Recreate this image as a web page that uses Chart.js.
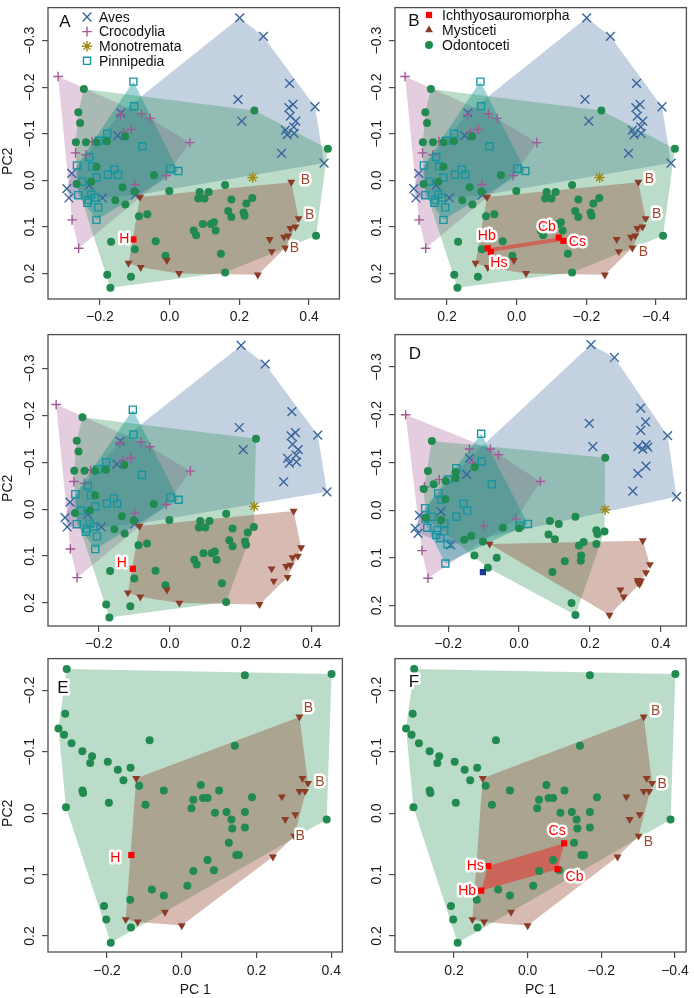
<!DOCTYPE html>
<html><head><meta charset="utf-8">
<script src="https://cdn.jsdelivr.net/npm/chart.js@4.4.1/dist/chart.umd.min.js"></script>
<style>
html,body{margin:0;padding:0;background:#fff;}
body{width:694px;height:998px;position:relative;overflow:hidden;}
canvas{position:absolute;}
</style></head>
<body>
<canvas id="cA" width="347" height="327" style="left:0;top:0"></canvas>
<canvas id="cB" width="347" height="327" style="left:347px;top:0"></canvas>
<canvas id="cC" width="347" height="327" style="left:0;top:327px"></canvas>
<canvas id="cD" width="347" height="327" style="left:347px;top:327px"></canvas>
<canvas id="cE" width="347" height="344" style="left:0;top:654px"></canvas>
<canvas id="cF" width="347" height="344" style="left:347px;top:654px"></canvas>
<script>
// ---------------- DATA (PC1, PC2) ----------------
// Panels A / B / C (full dataset)
const avesA = [[0.201,-0.349],[0.269,-0.309],[0.344,-0.208],[0.196,-0.174],[0.417,-0.158],[0.354,-0.163],[0.342,-0.156],[0.346,-0.138],[0.207,-0.127],[0.362,-0.127],[0.356,-0.115],[0.332,-0.108],[0.337,-0.098],[0.357,-0.101],[0.321,-0.058],[0.443,-0.037],[-0.140,-0.145],[-0.149,-0.096],[-0.281,-0.015],[-0.295,0.018],[-0.289,0.038],[-0.231,0.011],[-0.193,0.038],[-0.099,0.032]];
const crocA = [[-0.320,-0.223],[-0.141,-0.141],[-0.081,-0.143],[-0.056,-0.133],[-0.110,-0.109],[-0.132,-0.103],[0.058,-0.081],[-0.223,-0.083],[-0.270,-0.059],[-0.240,-0.055],[-0.010,-0.010],[-0.099,0.009],[-0.280,0.085],[-0.261,0.146]];
const monoA = [[0.238,-0.006]];
const pinnA = [[-0.104,-0.212],[-0.102,-0.159],[-0.179,-0.100],[-0.203,-0.085],[-0.078,-0.073],[-0.231,-0.050],[-0.266,-0.032],[-0.222,-0.030],[-0.210,-0.006],[-0.158,-0.023],[-0.177,-0.012],[-0.148,-0.012],[0.002,-0.025],[0.025,-0.020],[-0.250,0.003],[-0.262,0.032],[-0.225,0.031],[-0.215,0.037],[-0.233,0.042],[-0.236,0.048],[-0.205,0.058],[-0.210,0.085]];
const odonA = [[-0.246,-0.196],[-0.262,-0.146],[-0.257,-0.123],[-0.269,-0.082],[-0.240,-0.082],[-0.210,-0.082],[-0.180,-0.084],[-0.128,-0.094],[0.243,-0.150],[-0.210,-0.029],[-0.045,-0.011],[-0.267,0.008],[-0.225,0.003],[-0.135,0.015],[-0.101,0.024],[-0.001,0.023],[-0.156,0.043],[-0.127,0.052],[0.159,0.010],[0.086,0.025],[0.112,0.025],[0.082,0.039],[0.100,0.039],[0.177,0.041],[0.237,0.038],[0.220,0.050],[-0.088,0.077],[-0.064,0.073],[0.168,0.066],[0.177,0.079],[0.212,0.069],[0.215,0.076],[0.095,0.094],[0.118,0.094],[0.127,0.090],[0.069,0.108],[0.076,0.118],[0.132,0.108],[-0.168,0.132],[-0.040,0.131],[-0.100,0.148],[-0.012,0.162],[0.147,0.158],[-0.179,0.203],[-0.111,0.207],[0.159,0.198],[-0.170,0.231]];
const odonExtraA = [[0.454,-0.068],[0.420,0.119]];   // present in A and B only
const mystA = [[0.349,0.004],[-0.085,0.036],[0.370,0.082],[0.346,0.103],[0.361,0.100],[0.340,0.119],[0.328,0.122],[0.287,0.127],[0.332,0.145],[0.293,0.153],[-0.118,0.178],[-0.083,0.187],[-0.008,0.172],[0.027,0.200],[0.253,0.203]];
const ichA = [[-0.104,0.127]];
// Panel B ichthyosaurs (PC1 axis reversed)
const ichB = [[0.083,0.146],[0.074,0.154],[-0.121,0.123],[-0.134,0.130]];
const ichBNames = ['Hb','Hs','Cb','Cs'];
// Panel D
const avesD = [[0.203,-0.347],[0.269,-0.320],[0.343,-0.214],[0.198,-0.182],[0.343,-0.167],[0.357,-0.185],[0.419,-0.156],[0.208,-0.133],[0.335,-0.133],[0.349,-0.128],[0.363,-0.132],[0.358,-0.137],[0.358,-0.092],[0.335,-0.077],[0.321,-0.040],[0.444,-0.028],[-0.140,-0.109],[-0.148,-0.075],[-0.220,0.003],[-0.281,0.011],[-0.293,0.038],[-0.285,0.049],[-0.193,0.073]];
const crocD = [[-0.320,-0.200],[-0.140,-0.128],[-0.081,-0.128],[-0.058,-0.116],[-0.132,-0.099],[0.060,-0.060],[-0.225,-0.064],[-0.267,-0.049],[-0.009,0.019],[-0.100,0.033],[-0.274,0.085],[-0.257,0.143]];
const monoD = [[0.243,-0.001]];
const pinnD = [[-0.107,-0.160],[-0.105,-0.102],[-0.177,-0.088],[-0.200,-0.064],[-0.077,-0.054],[-0.228,-0.035],[-0.219,-0.022],[-0.156,-0.013],[-0.146,0.001],[-0.265,-0.004],[-0.264,0.018],[-0.245,0.014],[-0.177,0.014],[-0.211,0.028],[-0.259,0.037],[-0.230,0.042],[-0.211,0.044],[-0.234,0.052],[-0.222,0.059],[-0.202,0.071],[0.002,0.033],[0.025,0.029],[-0.208,0.112]];
const odonD = [[-0.246,-0.145],[-0.257,-0.082],[-0.269,-0.044],[-0.241,-0.054],[-0.207,-0.061],[-0.179,-0.067],[-0.179,-0.080],[-0.125,-0.090],[-0.208,-0.023],[-0.220,0.021],[-0.263,0.016],[-0.155,0.062],[-0.135,0.054],[-0.102,0.066],[-0.046,0.037],[0.000,0.038],[-0.088,0.121],[-0.063,0.100],[-0.126,0.095],[0.243,-0.110],[0.087,0.023],[0.112,0.029],[0.159,0.014],[0.083,0.051],[0.101,0.061],[0.218,0.042],[0.221,0.050],[0.241,0.045],[0.218,0.071],[0.182,0.067],[0.169,0.074],[0.175,0.095],[0.174,0.106],[0.129,0.107],[0.094,0.130],[0.148,0.195],[0.159,0.220]];
const mystD = [[-0.083,0.071],[0.349,0.064],[0.369,0.114],[0.358,0.131],[0.335,0.147],[0.344,0.148],[0.340,0.155],[0.335,0.152],[0.286,0.167],[0.295,0.182],[0.255,0.220]];
const ichD = [[-0.102,0.130]];
// Panels E / F (cetaceans only)
const odonE = [[-0.308,-0.235],[0.169,-0.225],[0.401,-0.227],[-0.312,-0.162],[-0.330,-0.138],[-0.315,-0.128],[-0.295,-0.114],[-0.266,-0.101],[-0.086,-0.119],[0.142,-0.110],[-0.240,-0.093],[-0.245,-0.082],[-0.198,-0.084],[-0.171,-0.071],[-0.137,-0.074],[-0.156,-0.054],[-0.114,-0.045],[-0.266,-0.037],[-0.264,-0.033],[-0.048,-0.037],[0.051,-0.046],[0.100,-0.037],[0.031,-0.022],[0.057,-0.025],[0.069,-0.025],[0.188,-0.026],[-0.195,-0.017],[-0.310,-0.010],[-0.097,-0.014],[0.026,-0.008],[0.089,-0.001],[0.120,-0.002],[0.133,0.010],[0.169,-0.002],[0.135,0.025],[0.169,0.023],[0.388,0.010],[0.126,0.048],[0.146,0.068],[0.153,0.068],[0.069,0.076],[0.031,0.094],[0.086,0.093],[0.015,0.118],[-0.080,0.124],[-0.048,0.134],[-0.138,0.141],[-0.208,0.151],[-0.202,0.173],[-0.136,0.186],[-0.190,0.211]];
const mystE = [[0.315,-0.157],[-0.122,-0.057],[0.323,-0.057],[0.338,-0.049],[0.268,-0.027],[0.315,-0.036],[0.330,-0.036],[0.304,0.002],[0.277,0.010],[0.301,0.037],[0.244,0.071],[-0.045,0.161],[-0.150,0.173],[-0.118,0.177],[0.000,0.183]];
const ichE = [[-0.135,0.068]];
const ichF = [[0.107,0.086],[0.126,0.126],[-0.099,0.049],[-0.081,0.091]];
const ichFNames = ['Hs','Hb','Cs','Cb'];

// tick labels
const ticksPC1 = [-0.2, 0.0, 0.2, 0.4];
const ticksPC1Rev = [0.2, 0.0, -0.2, -0.4];
const ticksPC2Full = [-0.3, -0.2, -0.1, 0.0, 0.1, 0.2];
const ticksPC2Cet = [-0.2, -0.1, 0.0, 0.1, 0.2];
const legendNamesA = ['Aves','Crocodylia','Monotremata','Pinnipedia'];
const legendNamesB = ['Ichthyosauromorpha','Mysticeti','Odontoceti'];

// PC1 sign flip for panels B and F
const flip = pts => pts.map(([x, y]) => [-x, y]);

// ---------------- STYLE ----------------
const FONT = '"Liberation Sans", Arial, Helvetica, sans-serif';
const COL = {
  aves:[58,102,156], croc:[163,88,150], mono:[160,138,20], pinn:[24,150,160],
  odon:[32,138,80], myst:[140,60,38], ich:[255,0,0], ichD:[30,55,150]
};
const rgb = c => `rgb(${c[0]},${c[1]},${c[2]})`;
const rgba = (c,a) => `rgba(${c[0]},${c[1]},${c[2]},${a})`;
const STY = {
  aves:{pointStyle:'crossRot', radius:6.2, bw:1.4, open:true},
  croc:{pointStyle:'cross', radius:4.8, bw:1.4, open:true},
  mono:{pointStyle:'star', radius:5.2, bw:1.4, open:true},
  pinn:{pointStyle:'rect', radius:5.0, bw:1.4, open:true},
  odon:{pointStyle:'circle', radius:4.0, bw:0},
  myst:{pointStyle:'triangle', radius:4.6, bw:0, rotation:180},
  ich:{pointStyle:'rect', radius:4.4, bw:0}
};
const HULL_ALPHA = {aves:0.3, croc:0.3, pinn:0.42, odon:0.3, myst:0.35, ich:0.38};

function hull(pts){
  const p = pts.map(q=>q.slice()).sort((a,b)=>a[0]-b[0]||a[1]-b[1]);
  if (p.length < 3) return p;
  const cr=(o,a,b)=>(a[0]-o[0])*(b[1]-o[1])-(a[1]-o[1])*(b[0]-o[0]);
  const lo=[],up=[];
  for(const q of p){while(lo.length>=2&&cr(lo[lo.length-2],lo[lo.length-1],q)<=0)lo.pop();lo.push(q);}
  for(let i=p.length-1;i>=0;i--){const q=p[i];while(up.length>=2&&cr(up[up.length-2],up[up.length-1],q)<=0)up.pop();up.push(q);}
  up.pop();lo.pop();return lo.concat(up);
}
const fmt = v => (Math.abs(v) < 1e-9 ? '0.0' : (v < 0 ? '\u2212' : '') + Math.abs(v).toFixed(1));

function drawSym(ctx, key, color, x, y, rot){
  const s = STY[key];
  ctx.save();
  ctx.strokeStyle = rgb(color); ctx.fillStyle = s.open ? 'rgba(0,0,0,0)' : rgb(color);
  ctx.lineWidth = s.bw || 0;
  Chart.helpers.drawPoint(ctx, {pointStyle:s.pointStyle, rotation: rot!==undefined?rot:(s.rotation||0), radius:s.radius, borderWidth:s.bw}, x, y);
  ctx.restore();
}

function makePanel(id, P){
  const datasets = [];
  // hulls first (behind)
  P.groups.forEach((g,k)=>{
    if (g.hull && g.pts.length >= 3){
      datasets.push({type:'line', data: hull(g.pts).map(([x,y])=>({x,y})), fill:'shape',
        backgroundColor: rgba(g.key==='ich'?COL.ich:g.color, HULL_ALPHA[g.key]), borderColor:'rgba(0,0,0,0)', borderWidth:0,
        pointRadius:0, pointHoverRadius:0, pointHitRadius:0, tension:0, order: 200 - k});
    }
  });
  P.groups.forEach((g,k)=>{
    const s = STY[g.key];
    datasets.push({type:'scatter', data: g.pts.map(([x,y])=>({x,y})), pointStyle:s.pointStyle,
      rotation: s.rotation||0, pointRadius:s.radius, pointHoverRadius:s.radius, borderWidth:s.bw,
      borderColor: rgb(g.color), backgroundColor: s.open ? 'rgba(0,0,0,0)' : rgb(g.color),
      clip:false, order: 100 - k});
  });

  const annot = {
    id:'annot'+id,
    afterDraw(chart){
      const ctx = chart.ctx, a = chart.chartArea, xs = chart.scales.x, ys = chart.scales.y;
      ctx.save();
      ctx.strokeStyle = '#4d4d4d'; ctx.lineWidth = 1.3;
      ctx.strokeRect(a.left, a.top, a.right-a.left, a.bottom-a.top);
      // rotated y tick labels
      ctx.fillStyle = '#1a1a1a'; ctx.font = `14px ${FONT}`;
      ctx.textAlign='center'; ctx.textBaseline='middle';
      ys.ticks.forEach(t=>{
        const py = ys.getPixelForValue(t.value);
        ctx.save(); ctx.translate(a.left-18, py); ctx.rotate(-Math.PI/2); ctx.fillText(fmt(t.value),0,0); ctx.restore();
      });
      // axis titles
      if (P.yTitle){
        ctx.save(); ctx.translate(8, (a.top+a.bottom)/2 + 8); ctx.rotate(-Math.PI/2);
        ctx.font = `14px ${FONT}`; ctx.fillText('PC2',0,0); ctx.restore();
      }
      if (P.xTitle){
        ctx.font = `14px ${FONT}`; ctx.fillText('PC 1', (a.left+a.right)/2, a.bottom+38);
      }
      // point labels
      (P.labels||[]).forEach(L=>{
        const px = xs.getPixelForValue(L.pt[0]) + L.dx, py = ys.getPixelForValue(L.pt[1]) + L.dy;
        ctx.font = `14px ${FONT}`; ctx.textAlign='center'; ctx.textBaseline='middle';
        ctx.lineJoin='round'; ctx.strokeStyle='#ffffff'; ctx.lineWidth=5;
        ctx.strokeText(L.text, px, py); ctx.fillStyle = L.color; ctx.fillText(L.text, px, py);
      });
      // panel letter
      if (P.letter){
        ctx.font = `17px ${FONT}`; ctx.textAlign='center'; ctx.textBaseline='middle';
        if (P.letterHalo){ ctx.lineJoin='round'; ctx.strokeStyle='#fff'; ctx.lineWidth=5; ctx.strokeText(P.letter, P.letterPos[0], P.letterPos[1]); }
        ctx.fillStyle='#111'; ctx.fillText(P.letter, P.letterPos[0], P.letterPos[1]);
      }
      // legend
      if (P.legend){
        const L = P.legend;
        L.items.forEach((it,i)=>{
          const y = L.y0 + i*L.dy;
          drawSym(ctx, it.key, it.color, L.sx, y, it.rot);
          ctx.fillStyle='#111'; ctx.font=`14px ${FONT}`; ctx.textAlign='left'; ctx.textBaseline='middle';
          ctx.fillText(it.name, L.tx, y+1);
        });
      }
      ctx.restore();
    }
  };

  const axisCommon = {
    type:'linear',
    grid:{display:true, drawOnChartArea:false, drawTicks:true, tickLength:6, color:'#4d4d4d', lineWidth:1.2},
    border:{display:false}
  };
  return new Chart(document.getElementById(id), {
    type:'scatter',
    data:{datasets},
    options:{
      responsive:false, animation:false, devicePixelRatio:1, events:[],
      layout:{padding:{top:P.pad.top, right:P.pad.right, left:0, bottom:0}},
      plugins:{legend:{display:false}, tooltip:{enabled:false}},
      scales:{
        x:Object.assign({}, axisCommon, {
          min:P.xr[0], max:P.xr[1], reverse: !!P.xrev,
          afterBuildTicks: s => { s.ticks = P.xticks.map(v=>({value:v})); },
          afterFit: s => { s.height = P.xAxisH; },
          ticks:{display:true, autoSkip:false, maxRotation:0, minRotation:0, padding:P.xPad,
                 color:'#1a1a1a', font:{family:FONT, size:14}, callback: v => fmt(v)}
        }),
        y:Object.assign({}, axisCommon, {
          min:P.yr[0], max:P.yr[1], reverse:true,
          afterBuildTicks: s => { s.ticks = P.yticks.map(v=>({value:v})); },
          afterFit: s => { s.width = 48; },
          ticks:{display:false}
        })
      }
    },
    plugins:[annot]
  });
}

const G = (key, pts, hullOn, color) => ({key, pts, hull:hullOn, color: color || COL[key]});
const brown = 'rgb(158,70,48)', red = '#ff0000';

const legA = {sx:87, tx:99, y0:17, dy:14.6, items:[
  {key:'aves', color:COL.aves, name:legendNamesA[0]},
  {key:'croc', color:COL.croc, name:legendNamesA[1]},
  {key:'mono', color:COL.mono, name:legendNamesA[2]},
  {key:'pinn', color:COL.pinn, name:legendNamesA[3]}]};
const legB = {sx:82, tx:95, y0:15, dy:15, items:[
  {key:'ich', color:COL.ich, name:legendNamesB[0]},
  {key:'myst', color:COL.myst, name:legendNamesB[1], rot:0},
  {key:'odon', color:COL.odon, name:legendNamesB[2]}]};

// Panel A
makePanel('cA', {
  xr:[-0.349,0.487], yr:[-0.371,0.255], xticks:ticksPC1, yticks:ticksPC2Full,
  pad:{top:2,right:2}, xAxisH:28, xPad:4, yTitle:true,
  groups:[G('aves',avesA,true),G('croc',crocA,true),G('pinn',pinnA,true),G('odon',odonA.concat(odonExtraA),true),G('myst',mystA,true),G('mono',monoA,false),G('ich',ichA,false)],
  labels:[{pt:mystA[0],text:'B',color:brown,dx:14,dy:-2},{pt:mystA[2],text:'B',color:brown,dx:11,dy:-3},{pt:mystA[8],text:'B',color:brown,dx:9,dy:0},
          {pt:ichA[0],text:'H',color:red,dx:-9,dy:0}],
  letter:'A', letterPos:[65,22], legend:legA
});
// Panel B (PC1 reversed)
const odonB = flip(odonA.concat(odonExtraA)), mystB = flip(mystA);
makePanel('cB', {
  xr:[-0.487,0.349], xrev:true, yr:[-0.371,0.255], xticks:ticksPC1Rev, yticks:ticksPC2Full,
  pad:{top:2,right:3}, xAxisH:28, xPad:4,
  groups:[G('aves',flip(avesA),true),G('croc',flip(crocA),true),G('pinn',flip(pinnA),true),G('odon',odonB,true),G('myst',mystB,true),G('mono',flip(monoA),false),G('ich',ichB,true)],
  labels:[{pt:mystB[0],text:'B',color:brown,dx:11,dy:-3},{pt:mystB[2],text:'B',color:brown,dx:11,dy:-4},{pt:mystB[8],text:'B',color:brown,dx:11,dy:4},
          {pt:ichB[0],text:ichBNames[0],color:red,dx:-1,dy:-12},{pt:ichB[1],text:ichBNames[1],color:red,dx:8,dy:11},
          {pt:ichB[2],text:ichBNames[2],color:red,dx:-12,dy:-10},{pt:ichB[3],text:ichBNames[3],color:red,dx:14,dy:1}],
  letter:'B', letterPos:[67,21], legend:legB
});
// Panel C
makePanel('cC', {
  xr:[-0.343,0.478], yr:[-0.372,0.249], xticks:ticksPC1, yticks:ticksPC2Full,
  pad:{top:2,right:2}, xAxisH:28, xPad:4, yTitle:true,
  groups:[G('aves',avesA,true),G('croc',crocA,true),G('pinn',pinnA,true),G('odon',odonA,true),G('myst',mystA,true),G('mono',monoA,false),G('ich',ichA,false)],
  labels:[{pt:ichA[0],text:'H',color:red,dx:-11,dy:-6}]
});
// Panel D
makePanel('cD', {
  xr:[-0.350,0.472], yr:[-0.368,0.243], xticks:ticksPC1, yticks:ticksPC2Full,
  pad:{top:2,right:3}, xAxisH:28, xPad:4,
  groups:[G('aves',avesD,true),G('croc',crocD,true),G('pinn',pinnD,true),G('odon',odonD,true),G('myst',mystD,true),G('mono',monoD,false),G('ich',ichD,false,COL.ichD)],
  letter:'D', letterPos:[68,27]
});
// Panel E
makePanel('cE', {
  xr:[-0.358,0.430], yr:[-0.252,0.226], xticks:ticksPC1, yticks:ticksPC2Cet,
  pad:{top:2,right:3}, xAxisH:46, xPad:5, yTitle:true, xTitle:true,
  groups:[G('odon',odonE,true),G('myst',mystE,true),G('ich',ichE,false)],
  labels:[{pt:mystE[0],text:'B',color:brown,dx:9,dy:-9},{pt:mystE[3],text:'B',color:brown,dx:12,dy:-1},{pt:mystE[9],text:'B',color:brown,dx:6,dy:0},
          {pt:ichE[0],text:'H',color:red,dx:-16,dy:3}],
  letter:'E', letterPos:[63,34], letterHalo:true
});
// Panel F (PC1 reversed)
const mystF = flip(mystE);
makePanel('cF', {
  xr:[-0.430,0.360], xrev:true, yr:[-0.252,0.226], xticks:ticksPC1Rev, yticks:ticksPC2Cet,
  pad:{top:2,right:3}, xAxisH:46, xPad:5, xTitle:true,
  groups:[G('odon',flip(odonE),true),G('myst',mystF,true),G('ich',ichF,true)],
  labels:[{pt:mystF[0],text:'B',color:brown,dx:12,dy:-6},{pt:mystF[3],text:'B',color:brown,dx:10,dy:1},{pt:mystF[9],text:'B',color:brown,dx:10,dy:6},
          {pt:ichF[0],text:ichFNames[0],color:red,dx:-13,dy:0},{pt:ichF[1],text:ichFNames[1],color:red,dx:-14,dy:1},
          {pt:ichF[2],text:ichFNames[2],color:red,dx:-7,dy:-12},{pt:ichF[3],text:ichFNames[3],color:red,dx:17,dy:8}],
  letter:'F', letterPos:[67,28], letterHalo:true
});
</script>
</body></html>
